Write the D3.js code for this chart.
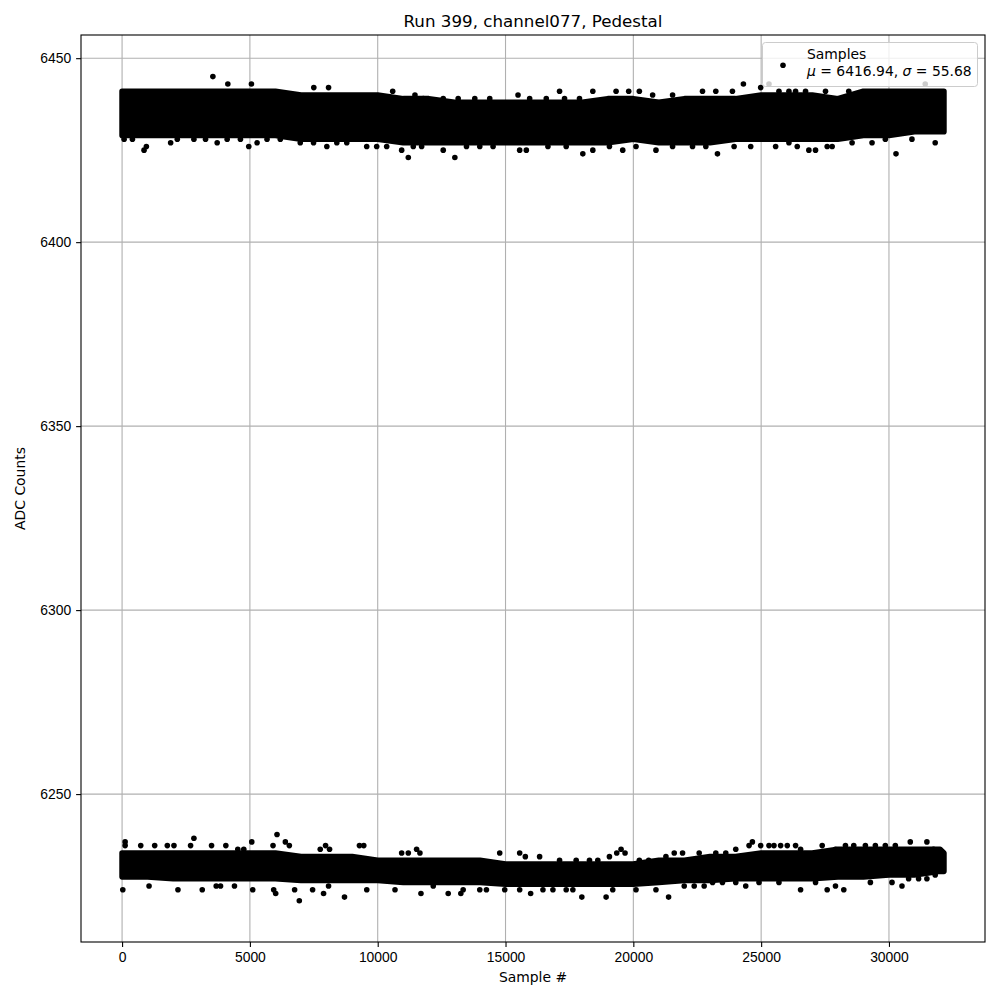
<!DOCTYPE html>
<html lang="en">
<head>
<meta charset="utf-8">
<script src="https://d3js.org/d3.v7.min.js"></script>
<style>
  body { margin: 0; background: #ffffff; }
  svg { display: block; font-family: "DejaVu Sans", sans-serif; }
  .tick text { font-size: 13.9px; fill: #000; }
  .tick line { stroke: #000; stroke-width: 1.1; }
  .grid line { stroke: #b0b0b0; stroke-width: 1.1; }
</style>
</head>
<body>
<script>
// ---- data ----
var xTicks = [0, 5000, 10000, 15000, 20000, 25000, 30000];
var yTicks = [6250, 6300, 6350, 6400, 6450];

// dense core of each band: sample position and the ADC range that is solid black there
var binSample = [0, 1000, 2000, 3000, 4000, 5000, 6000, 7000, 8000, 9000, 10000, 11000, 12000, 13000, 14000, 15000, 16000,
                 17000, 18000, 19000, 20000, 21000, 22000, 23000, 24000, 25000, 26000, 27000, 28000, 29000, 30000, 31000, 32000, 32150];
var upperHi = [6441, 6441, 6441, 6441, 6441, 6441, 6441, 6440, 6440, 6440, 6440, 6439, 6439, 6438, 6438, 6438, 6438,
               6438, 6438, 6439, 6439, 6438, 6439, 6439, 6439, 6440, 6440, 6440, 6439, 6441, 6441, 6441, 6441, 6441];
var upperLo = [6429, 6429, 6429, 6429, 6429, 6429, 6429, 6428, 6428, 6428, 6428, 6427, 6427, 6427, 6427, 6427, 6427,
               6427, 6427, 6427, 6428, 6427, 6427, 6427, 6428, 6428, 6428, 6428, 6428, 6429, 6429, 6430, 6430, 6430];
var lowerHi = [6234, 6234, 6234, 6234, 6234, 6234, 6234, 6233, 6233, 6233, 6232, 6232, 6232, 6232, 6232, 6231, 6231,
               6231, 6231, 6231, 6231, 6232, 6232, 6233, 6233, 6234, 6234, 6234, 6235, 6235, 6235, 6235, 6235, 6234];
var lowerLo = [6227.5, 6227.5, 6227, 6227, 6227, 6227, 6227, 6226.5, 6226.5, 6226.5, 6226.5, 6226, 6226, 6226, 6226, 6225.5, 6225.5,
               6225.5, 6225.5, 6225.5, 6225.5, 6226, 6226.5, 6226.5, 6227, 6227, 6227, 6227, 6227.5, 6227.5, 6228, 6228, 6229, 6229];

// scattered samples around the cores [sample, ADC]
var upperPoints = [
  [3552, 6445], [4137, 6443], [5060, 6443], [8077, 6442], [7500, 6442],
  [80, 6428], [405, 6428], [860, 6425], [950, 6426], [1900, 6427], [2160, 6428], [2810, 6428], [3265, 6428],
  [3720, 6427], [4110, 6428], [4630, 6428], [4956, 6426], [5280, 6427], [5670, 6428], [6190, 6428], [6970, 6427],
  [7490, 6427], [8010, 6426], [8400, 6427], [8790, 6427], [9570, 6426], [9960, 6426],
  [10586, 6441], [11457, 6440], [11783, 6439], [12563, 6439], [13148, 6439], [13798, 6439], [14383, 6439],
  [15489, 6440], [15944, 6439], [16594, 6439], [17114, 6441], [17309, 6439], [17894, 6439], [18415, 6441],
  [19325, 6441], [19819, 6441], [20235, 6441], [20755, 6440], [21535, 6440],
  [10352, 6426], [10937, 6425], [11197, 6423], [11392, 6426], [11718, 6426], [12563, 6425], [13018, 6423],
  [13473, 6426], [13993, 6426], [14513, 6426], [15554, 6425], [15814, 6425], [16659, 6426], [17374, 6426],
  [18024, 6424], [18415, 6425], [19065, 6426], [19585, 6425], [20105, 6426], [20885, 6425], [21535, 6426],
  [24306, 6443], [24982, 6442], [25307, 6443], [31419, 6443], [22706, 6441], [23226, 6441], [23876, 6441],
  [25697, 6441], [26087, 6441], [26347, 6441], [26737, 6441], [27518, 6441], [28428, 6441],
  [23291, 6424], [30275, 6424], [31809, 6427], [22316, 6426], [22836, 6426], [23942, 6426], [24592, 6426],
  [25567, 6426], [26087, 6427], [26412, 6426], [26867, 6425], [27127, 6425], [27583, 6426], [27778, 6426],
  [28558, 6427], [29338, 6427], [29858, 6428], [30899, 6428]
];
var lowerPoints = [
  [119, 6237], [119, 6236], [730, 6236], [1276, 6236], [1770, 6236], [2030, 6236], [2810, 6238], [2680, 6236],
  [3500, 6236], [4059, 6236], [4527, 6235], [4761, 6235], [5073, 6237], [5905, 6236], [6061, 6239], [6387, 6237],
  [6543, 6236], [7752, 6235], [7960, 6236], [8116, 6235], [9286, 6236], [9455, 6236],
  [28, 6224], [1055, 6225], [2186, 6224], [3136, 6224], [3682, 6225], [3852, 6225], [4397, 6225], [5112, 6224],
  [5931, 6224], [6009, 6223], [6750, 6224], [6933, 6221], [7453, 6224], [7882, 6223], [8077, 6225], [8701, 6222],
  [9572, 6224],
  [10937, 6234], [11197, 6234], [11522, 6235], [11652, 6234], [14773, 6234], [15554, 6234], [15775, 6233],
  [16334, 6233], [17114, 6232], [17764, 6232], [18285, 6232], [18610, 6232], [19065, 6233], [19351, 6234],
  [19520, 6235], [19676, 6234], [20235, 6232], [20600, 6232], [21275, 6233], [21600, 6234],
  [10677, 6224], [11692, 6223], [12173, 6225], [12758, 6223], [13252, 6223], [13343, 6224], [13993, 6224],
  [14253, 6224], [14969, 6224], [15554, 6224], [15983, 6223], [16464, 6224], [16854, 6224], [17374, 6224],
  [17634, 6224], [17985, 6222], [18935, 6222], [19195, 6224], [20105, 6224], [20885, 6224], [21379, 6222],
  [21926, 6234], [22576, 6234], [23226, 6234], [23616, 6234], [24007, 6235], [24527, 6236], [24657, 6237],
  [24982, 6236], [25307, 6236], [25502, 6236], [25762, 6236], [26022, 6236], [26347, 6236], [26543, 6235],
  [27388, 6236], [27908, 6235], [28298, 6236], [28623, 6236], [29078, 6236], [29468, 6236], [29858, 6236],
  [30249, 6236], [30834, 6237], [31484, 6237], [31744, 6235], [32069, 6233],
  [21991, 6225], [22381, 6225], [22771, 6225], [23100, 6226], [23486, 6226], [24007, 6226], [24397, 6225],
  [24917, 6226], [25697, 6226], [26543, 6224], [27128, 6226], [27583, 6224], [27908, 6225], [28233, 6224],
  [29273, 6226], [30119, 6226], [30509, 6225], [30769, 6227], [31159, 6227], [31484, 6227], [31809, 6228]
];

var titleText = "Run 399, channel077, Pedestal";
var legendLine1 = "Samples";
var meanText = "6416.94", sigmaText = "55.68";

// ---- layout ----
var W = 1000, H = 1000;
var mLeft = 81, mRight = 985, mTop = 35, mBottom = 942;
var R = 2.8; // marker radius

var x = d3.scaleLinear().domain([-1607, 33757]).range([mLeft, mRight]);
var y = d3.scaleLinear().domain([6209.8, 6456.3]).range([mBottom, mTop]);

var svg = d3.select("body").append("svg")
    .attr("width", W)
    .attr("height", H);

// grid
var grid = svg.append("g").attr("class", "grid");
grid.selectAll(".gx").data(xTicks).enter().append("line")
    .attr("x1", function(d) { return x(d); }).attr("x2", function(d) { return x(d); })
    .attr("y1", mTop).attr("y2", mBottom);
grid.selectAll(".gy").data(yTicks).enter().append("line")
    .attr("y1", function(d) { return y(d); }).attr("y2", function(d) { return y(d); })
    .attr("x1", mLeft).attr("x2", mRight);

// dense band cores
function core(hi, lo) {
  return d3.area()
    .x(function(d, i) { return x(binSample[i]); })
    .y0(function(d, i) { return y(lo[i]); })
    .y1(function(d, i) { return y(hi[i]); })(binSample);
}
[[upperHi, upperLo], [lowerHi, lowerLo]].forEach(function(b) {
  svg.append("path")
    .attr("d", core(b[0], b[1]))
    .attr("fill", "#000")
    .attr("stroke", "#000")
    .attr("stroke-width", 2 * R)
    .attr("stroke-linejoin", "round");
});

// scattered samples
svg.append("g").selectAll("circle")
    .data(upperPoints.concat(lowerPoints))
    .enter().append("circle")
    .attr("cx", function(d) { return x(d[0]); })
    .attr("cy", function(d) { return y(d[1]); })
    .attr("r", R)
    .attr("fill", "#000");

// axes
svg.append("g")
    .attr("transform", "translate(0," + mBottom + ")")
    .call(d3.axisBottom(x).tickValues(xTicks).tickFormat(d3.format("d")).tickSize(4.9).tickPadding(4.9))
    .call(function(g) { g.select(".domain").remove(); });
svg.append("g")
    .attr("transform", "translate(" + mLeft + ",0)")
    .call(d3.axisLeft(y).tickValues(yTicks).tickFormat(d3.format("d")).tickSize(4.9).tickPadding(4.9))
    .call(function(g) { g.select(".domain").remove(); });

svg.append("rect")
    .attr("x", mLeft).attr("y", mTop)
    .attr("width", mRight - mLeft).attr("height", mBottom - mTop)
    .attr("fill", "none").attr("stroke", "#000").attr("stroke-width", 1.1);

// labels
svg.append("text")
    .attr("x", (mLeft + mRight) / 2).attr("y", 27)
    .attr("text-anchor", "middle")
    .style("font-size", "16.7px")
    .text(titleText);
svg.append("text")
    .attr("x", (mLeft + mRight) / 2).attr("y", 982)
    .attr("text-anchor", "middle")
    .style("font-size", "13.9px")
    .text("Sample #");
svg.append("text")
    .attr("transform", "translate(25," + (mTop + mBottom) / 2 + ") rotate(-90)")
    .attr("text-anchor", "middle")
    .style("font-size", "13.9px")
    .text("ADC Counts");

// legend
var lg = svg.append("g");
lg.append("rect")
    .attr("x", 762.5).attr("y", 42.5)
    .attr("width", 215).attr("height", 44)
    .attr("rx", 3)
    .attr("fill", "#fff").attr("fill-opacity", 0.8)
    .attr("stroke", "#cccccc").attr("stroke-width", 1);
lg.append("circle")
    .attr("cx", 783).attr("cy", 65.3).attr("r", R).attr("fill", "#000");
lg.append("text")
    .attr("x", 807).attr("y", 58.5)
    .style("font-size", "13.9px")
    .text(legendLine1);
var l2 = lg.append("text")
    .attr("x", 807).attr("y", 76)
    .style("font-size", "13.9px");
l2.append("tspan").style("font-style", "italic").text("\u03bc");
l2.append("tspan").text(" = " + meanText + ", ");
l2.append("tspan").style("font-style", "italic").text("\u03c3");
l2.append("tspan").text(" = " + sigmaText);
</script>
</body>
</html>
